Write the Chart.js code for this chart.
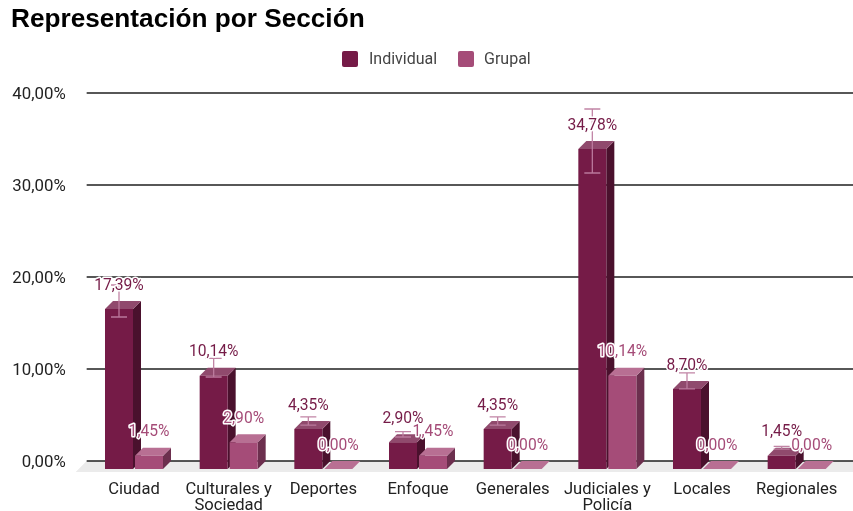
<!DOCTYPE html>
<html>
<head>
<meta charset="utf-8">
<title>Representación por Sección</title>
<script src="https://cdn.jsdelivr.net/npm/chart.js@4"></script>
<style>
  html, body { margin: 0; padding: 0; background: #fff; }
  canvas { display: block; }
</style>
</head>
<body>
<canvas id="grafico" width="853" height="511"></canvas>
<script>
// Datos
const categorias = ['Ciudad', ['Culturales y', 'Sociedad'], 'Deportes', 'Enfoque', 'Generales', ['Judiciales y', 'Policía'], 'Locales', 'Regionales'];
const individual = [17.39, 10.14, 4.35, 2.90, 4.35, 34.78, 8.70, 1.45];
const grupal = [1.45, 2.90, 0, 1.45, 0, 10.14, 0, 0];
const margenError = [1.74, 1.01, 0.44, 0.29, 0.44, 3.48, 0.87, 0.15];

// Colores: frente, lateral y cara superior de cada serie
const colores = [
    { frente: '#751b47', lado: '#4a112d', arriba: '#904a6d' },
    { frente: '#a54c78', lado: '#6c2f4e', arriba: '#b86f93' },
];
const fuente = 'Roboto, sans-serif';
const prof = 8; // profundidad del efecto 3D

function formato(v) {
    return v.toFixed(2).replace('.', ',') + '%';
}

function cara(ctx, color, puntos) {
    ctx.fillStyle = color;
    ctx.beginPath();
    puntos.forEach((p, i) => i ? ctx.lineTo(p[0], p[1]) : ctx.moveTo(p[0], p[1]));
    ctx.closePath();
    ctx.fill();
}

const efecto3d = {
    id: 'efecto3d',
    // Suelo, líneas de la cuadrícula y caras laterales y superiores
    beforeDatasetsDraw(chart) {
        const ctx = chart.ctx;
        const y = chart.scales.y;
        const cero = y.getPixelForValue(0);
        const izq = chart.chartArea.left;
        const der = chart.width;

        ctx.save();
        cara(ctx, '#ebebeb', [[izq, cero], [der, cero], [der, cero + prof + 3], [izq - 11, cero + prof + 3]]);

        ctx.strokeStyle = '#1f1f1f';
        ctx.lineWidth = 1.4;
        y.ticks.forEach(t => {
            const py = y.getPixelForValue(t.value);
            ctx.beginPath();
            ctx.moveTo(izq, py);
            ctx.lineTo(der, py);
            ctx.stroke();
        });

        chart.data.datasets.forEach((ds, i) => {
            const c = colores[i];
            chart.getDatasetMeta(i).data.forEach(bar => {
                const x0 = bar.x - bar.width / 2;
                const x1 = bar.x + bar.width / 2;
                const arriba = bar.y + prof;
                const abajo = bar.base + prof;
                cara(ctx, c.lado, [[x1, arriba], [x1 + prof, arriba - prof], [x1 + prof, abajo - prof], [x1, abajo]]);
                cara(ctx, c.arriba, [[x0, arriba], [x0 + prof, arriba - prof], [x1 + prof, arriba - prof], [x1, arriba]]);
            });
        });
        ctx.restore();
    },
    // El frente lo dibuja la librería, desplazado hacia abajo
    beforeDatasetDraw(chart) {
        chart.ctx.save();
        chart.ctx.translate(0, prof);
    },
    afterDatasetDraw(chart) {
        chart.ctx.restore();
    },
    afterDatasetsDraw(chart) {
        const ctx = chart.ctx;
        const y = chart.scales.y;
        ctx.save();

        // Barras de error
        ctx.strokeStyle = 'rgba(190, 125, 160, 0.95)';
        ctx.lineWidth = 1.3;
        chart.getDatasetMeta(0).data.forEach((bar, i) => {
            const sup = y.getPixelForValue(individual[i] + margenError[i]);
            const inf = y.getPixelForValue(individual[i] - margenError[i]);
            ctx.beginPath();
            ctx.moveTo(bar.x, sup);
            ctx.lineTo(bar.x, inf);
            ctx.moveTo(bar.x - 8, sup);
            ctx.lineTo(bar.x + 8, sup);
            ctx.moveTo(bar.x - 8, inf);
            ctx.lineTo(bar.x + 8, inf);
            ctx.stroke();
        });

        // Etiquetas de valor con halo blanco
        ctx.font = '15.6px ' + fuente;
        ctx.textAlign = 'center';
        ctx.textBaseline = 'middle';
        ctx.lineJoin = 'round';
        chart.data.datasets.forEach((ds, i) => {
            chart.getDatasetMeta(i).data.forEach((bar, j) => {
                const texto = formato(ds.data[j]);
                const py = bar.y - 15.2;
                ctx.strokeStyle = '#fff';
                ctx.lineWidth = 3;
                ctx.strokeText(texto, bar.x, py);
                ctx.fillStyle = colores[i].frente;
                ctx.fillText(texto, bar.x, py);
            });
        });

        // Leyenda
        const leyenda = [[342, 369], [458, 484]];
        ctx.font = '16px ' + fuente;
        ctx.textAlign = 'left';
        chart.data.datasets.forEach((ds, i) => {
            ctx.fillStyle = colores[i].frente;
            ctx.beginPath();
            ctx.roundRect(leyenda[i][0], 51, 16, 16, 2);
            ctx.fill();
            ctx.fillStyle = '#444';
            ctx.fillText(ds.label, leyenda[i][1], 59.5);
        });
        ctx.restore();
    },
};

const chart = new Chart(document.getElementById('grafico').getContext('2d'), {
    type: 'bar',
    data: {
        labels: categorias,
        datasets: [
            { label: 'Individual', data: individual, backgroundColor: colores[0].frente },
            { label: 'Grupal', data: grupal, backgroundColor: colores[1].frente },
        ],
    },
    options: {
        responsive: false,
        animation: false,
        events: [],
        categoryPercentage: 0.634,
        barPercentage: 0.933,
        layout: { padding: { left: 11, right: 9, top: 0, bottom: 0 } },
        scales: {
            x: {
                grid: { display: false, drawTicks: false },
                border: { display: false },
                afterFit(s) {
                    s.height = 50;
                    s.paddingLeft = 0;
                    s.paddingRight = 0;
                },
                ticks: {
                    color: '#222',
                    padding: 21,
                    maxRotation: 0,
                    autoSkip: false,
                    font: { family: fuente, size: 16.6, lineHeight: 0.95 },
                },
            },
            y: {
                min: 0,
                max: 40,
                grid: { display: false, drawTicks: false },
                border: { display: false },
                afterFit(s) { s.width = 75.67; },
                ticks: {
                    stepSize: 10,
                    color: '#222',
                    padding: 21,
                    labelOffset: 1.5,
                    callback: v => formato(v),
                    font: { family: fuente, size: 16.8 },
                },
            },
        },
        plugins: {
            legend: { display: false },
            tooltip: { enabled: false },
            title: {
                display: true,
                text: 'Representación por Sección',
                align: 'start',
                color: '#000',
                padding: { top: 4, bottom: 57.8 },
                font: { family: '"Liberation Sans", Arial, sans-serif', size: 26.2, weight: 'bold', lineHeight: 1.19 },
            },
        },
    },
    plugins: [efecto3d],
});
</script>
</body>
</html>
